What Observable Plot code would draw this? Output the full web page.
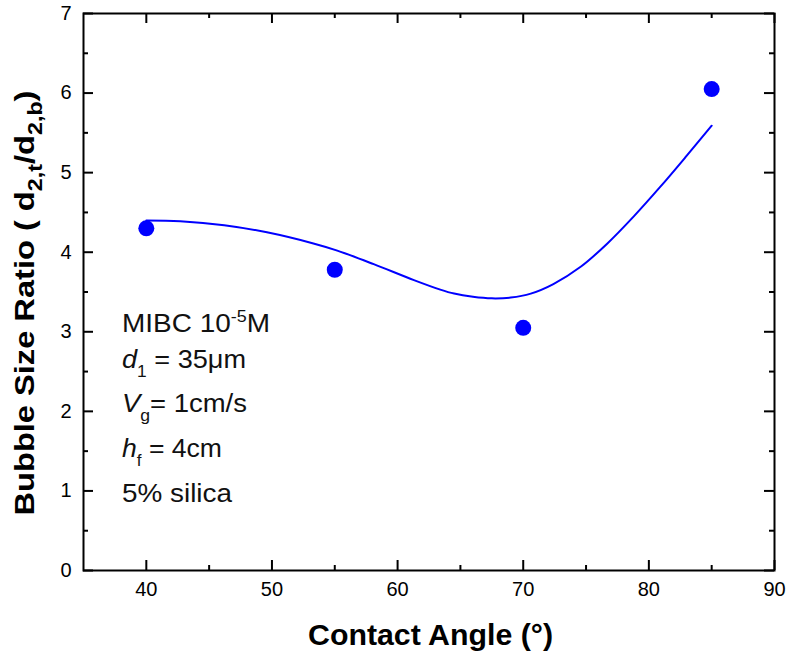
<!DOCTYPE html>
<html><head><meta charset="utf-8">
<script src="https://cdn.jsdelivr.net/npm/d3@7"></script>
<script src="https://cdn.jsdelivr.net/npm/@observablehq/plot@0.6"></script>
<style>body{margin:0;background:#fff}</style>
</head><body><div id="chart"></div>
<script>
// measured points
const angles = [40, 55, 70, 85];
const ratios = [4.30, 3.78, 3.05, 6.05];
// fitted curve
const fitAngles = [40, 42.7, 46.2, 49.6, 53.3, 55.2, 58.1, 61.3, 63.4, 64.5, 66.0, 67.5, 69.0, 70.6, 72.4, 74.6, 76.7, 78.8, 80.9, 83.0, 85.0];
const fitRatios = [4.40, 4.39, 4.34, 4.25, 4.11, 4.02, 3.85, 3.65, 3.53, 3.48, 3.44, 3.42, 3.43, 3.48, 3.60, 3.82, 4.11, 4.45, 4.82, 5.21, 5.59];
// axes
const xDomain = [35, 90];
const yDomain = [0, 7];
const xMajor = [40, 50, 60, 70, 80, 90];
const xMinor = [45, 55, 65, 75, 85];
const yMajor = [0, 1, 2, 3, 4, 5, 6, 7];
const yMinor = [0.5, 1.5, 2.5, 3.5, 4.5, 5.5, 6.5];
// texts
const xTitle = "Contact Angle (\u00B0)";
const yTitleParts = ["Bubble Size Ratio ( d", "2,t", "/d", "2,b", ")"];
const noteLines = [
  [["MIBC 10", "n"], ["-5", "sup"], ["M", "n"]],
  [["d", "i"], ["1", "sub"], [" = 35\u03BCm", "n"]],
  [["V", "i"], ["g", "sub"], ["= 1cm/s", "n"]],
  [["h", "i"], ["f", "sub"], [" = 4cm", "n"]],
  [["5% silica", "n"]]
];

const FONT = '"Liberation Sans", Arial, Helvetica, sans-serif';

const points = angles.map((a, i) => ({a, r: ratios[i]}));
const fit = fitAngles.map((a, i) => ({a, r: fitRatios[i]}));
const tickStyle = {stroke: "#000", strokeWidth: 2};

const plot = Plot.plot({
  width: 786, height: 657,
  marginLeft: 83, marginRight: 12, marginTop: 13, marginBottom: 87,
  x: {domain: xDomain, label: null},
  y: {domain: yDomain, label: null},
  style: {fontFamily: FONT, fontSize: "20px", color: "#000", background: "#fff", overflow: "visible"},
  marks: [
    Plot.axisX(xMajor, {anchor: "bottom", tickSize: 0, tickPadding: 11, fontSize: 20, tickFormat: "d", label: null}),
    Plot.axisY(yMajor, {anchor: "left", tickSize: 0, tickPadding: 12, fontSize: 20, tickFormat: "d", label: null}),
    // inward ticks: bottom / top
    Plot.ruleX(xMajor, {x: d => d, y1: yDomain[0], y2: yDomain[0], insetBottom: 10, ...tickStyle}),
    Plot.ruleX(xMinor, {x: d => d, y1: yDomain[0], y2: yDomain[0], insetBottom: 5, ...tickStyle}),
    Plot.ruleX(xMajor, {x: d => d, y1: yDomain[1], y2: yDomain[1], insetBottom: -10, ...tickStyle}),
    Plot.ruleX(xMinor, {x: d => d, y1: yDomain[1], y2: yDomain[1], insetBottom: -5, ...tickStyle}),
    // inward ticks: left / right
    Plot.ruleY(yMajor, {y: d => d, x1: xDomain[0], x2: xDomain[0], insetRight: -10, ...tickStyle}),
    Plot.ruleY(yMinor, {y: d => d, x1: xDomain[0], x2: xDomain[0], insetRight: -5, ...tickStyle}),
    Plot.ruleY(yMajor, {y: d => d, x1: xDomain[1], x2: xDomain[1], insetRight: 10, ...tickStyle}),
    Plot.ruleY(yMinor, {y: d => d, x1: xDomain[1], x2: xDomain[1], insetRight: 5, ...tickStyle}),
    Plot.frame({stroke: "#000", strokeWidth: 2}),
    Plot.line(fit, {x: "a", y: "r", stroke: "#0000ff", strokeWidth: 2, curve: "catmull-rom"}),
    Plot.dot(points, {x: "a", y: "r", r: 8, fill: "#0000ff", stroke: "none"})
  ]
});

const svg = d3.select(plot);
const xs = plot.scale("x");
const cx = (xs.range[0] + xs.range[1]) / 2;

// x title
svg.append("text").attr("x", cx + 2).attr("y", 645).attr("text-anchor", "middle")
  .attr("font-family", FONT).attr("font-weight", "bold").attr("font-size", 29).attr("fill", "#000")
  .attr("textLength", 245).attr("lengthAdjust", "spacingAndGlyphs")
  .text(xTitle);

// y title with subscripts
const yt = svg.append("text").attr("transform", "translate(34,303) rotate(-90)")
  .attr("text-anchor", "middle").attr("font-family", FONT).attr("font-weight", "bold")
  .attr("font-size", 28).attr("fill", "#000")
  .attr("textLength", 425).attr("lengthAdjust", "spacingAndGlyphs");
yTitleParts.forEach((p, i) => {
  const ts = yt.append("tspan").text(p);
  if (i % 2 === 1) ts.attr("font-size", 20).attr("dy", 8);
  else if (i > 0) ts.attr("dy", -8);
});

// annotation block
const noteX = 122;
const noteBase = [332, 368, 412, 457, 502];
const noteLen = [148, 124, 125, 100, 110];
const g = svg.append("g").attr("font-family", FONT).attr("font-size", 25).attr("fill", "#111")
  .attr("text-anchor", "start");
noteLines.forEach((parts, li) => {
  const t = g.append("text").attr("x", noteX).attr("y", noteBase[li])
    .attr("textLength", noteLen[li]).attr("lengthAdjust", "spacingAndGlyphs");
  let shift = 0;
  parts.forEach(([s, kind]) => {
    const ts = t.append("tspan").text(s);
    let target = 0;
    if (kind === "sup") { ts.attr("font-size", 16); target = -10; }
    else if (kind === "sub") { ts.attr("font-size", 16); target = 9; }
    else if (kind === "i") { ts.attr("font-style", "italic"); }
    if (target - shift !== 0) ts.attr("dy", target - shift);
    shift = target;
  });
});

document.getElementById("chart").append(plot);
</script>
</body></html>
